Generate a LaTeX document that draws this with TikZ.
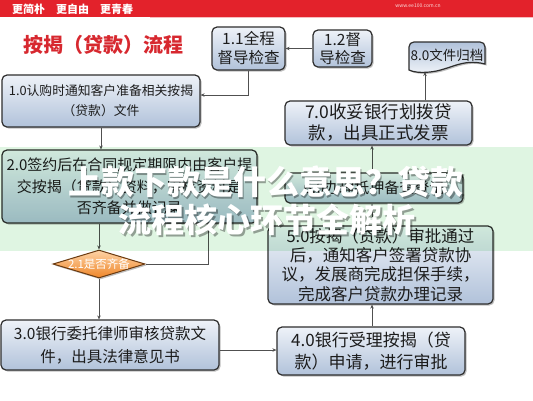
\documentclass[tikz,border=0pt]{standalone}
\usepackage{fontspec}
\setmainfont{Noto Sans CJK SC}
\usetikzlibrary{shapes.geometric,arrows.meta,shadows}
\definecolor{boxtop}{HTML}{EEF2F8}
\definecolor{boxbot}{HTML}{B1C2DA}
\definecolor{boxline}{HTML}{2E2E2E}
\definecolor{linec}{HTML}{505050}
\definecolor{txt}{HTML}{1C1C1C}
\definecolor{barred}{HTML}{E3222B}
\definecolor{titred}{HTML}{D7282F}
\definecolor{dtop}{HTML}{FDD3A6}
\definecolor{dbot}{HTML}{EF8629}
\definecolor{dline}{HTML}{6B3A10}
\definecolor{bandc}{HTML}{DFF5E2}
\newcommand{\fsz}[2]{\fontsize{#1}{#2}\selectfont}
\newcommand{\docpath}{(409,70) -- (409,47) .. controls (409,44) and (411,42) .. (414,42) -- (480,42)
  .. controls (483,42) and (485,44) .. (485,47) -- (485,64)
  .. controls (462,58) and (450,70) .. (430,72) .. controls (420,73) and (413,72) .. (409,70) -- cycle}
\begin{document}
\begin{tikzpicture}[x=1pt,y=-1pt,
  box/.style={draw=boxline, line width=1.2pt, rounded corners=5pt,
    top color=boxtop, bottom color=boxbot, text=txt, align=center, inner sep=1pt,
    drop shadow={shadow xshift=1.5pt, shadow yshift=-1.5pt, opacity=0.25, fill=black}},
  arr/.style={-{Stealth[length=4pt,width=3.5pt]}, draw=linec, line width=0.8pt},
  ln/.style={draw=linec, line width=0.8pt}]
\useasboundingbox (0,0) rectangle (533,400);
\fill[white] (0,0) rectangle (533,400);
% top bar
\fill[barred] (0,0) rectangle (533,17);
\draw[draw=white!70!barred, line width=0.6pt] (150,17.5) -- (533,17.5);
\node[text=white, font=\fsz{11}{11}\bfseries, anchor=west, inner sep=0pt] (bar) at (12,9) {更简朴\hspace{1em}更自由\hspace{1em}更青春};
\node[text=white!85!barred, font=\fsz{5}{5}, inner sep=0pt] (url) at (418,6) {www.ee100.com.cn};
% title
\node[text=titred, font=\fsz{20}{20}\bfseries, inner sep=0pt] (title) at (103.5,45) {按揭（贷款）流程};
% boxes
\node[box, minimum width=73pt, minimum height=43pt, font=\fsz{15.5}{19}] (n11) at (248.5,48.5) {1.1全程\\督导检查};
\node[box, minimum width=59pt, minimum height=37pt, font=\fsz{15.5}{18}] (n12) at (342.5,48.5) {1.2督\\导检查};
\node[box, minimum width=198pt, minimum height=52pt, font=\fsz{12.8}{20}] (n10) at (101,101) {1.0认购时通知客户准备相关按揭\\（贷款）文件};
\node[box, minimum width=255pt, minimum height=73pt, font=\fsz{15}{21.5}] (n20) at (129.5,186.5) {2.0签约后在合同规定期限内由客户提\\交按揭（贷款）资料，审核资料是\\否齐备并做记录};
\node[diamond, minimum width=92pt, minimum height=28pt, inner sep=0pt, draw=dline, line width=1pt,
  top color=dtop, bottom color=dbot,
  drop shadow={shadow xshift=1.5pt, shadow yshift=-1.5pt, opacity=0.25, fill=black}] (n21) at (99,264) {};
\node[text=white, font=\fsz{11.5}{12}, inner sep=0pt] (n21t) at (n21) {2.1是否齐备};
\node[box, minimum width=218pt, minimum height=50pt, font=\fsz{15.5}{23}] (n30) at (110,345) {3.0银行委托律师审核贷款文\\件，出具法律意见书};
\node[box, minimum width=188pt, minimum height=48pt, font=\fsz{17}{22}] (n40) at (371,351) {4.0银行受理按揭（贷\\款）申请，进行审批};
\node[box, minimum width=225pt, minimum height=78pt, font=\fsz{16.5}{19.2}] (n50) at (380.5,265) {5.0按揭（贷款）审批通过\\后，通知客户签署贷款协\\议，发展商完成担保手续，\\完成客户贷款办理记录};
\node[box, minimum width=178pt, minimum height=30pt, font=\fsz{15}{18}] (n60) at (374,188) {6.0办理抵押备查登记};
\node[box, minimum width=187pt, minimum height=44pt, font=\fsz{17.5}{21}] (n70) at (378.5,123) {7.0收妥银行划拨贷\\款，出具正式发票};
% 8.0 document shape
\begin{scope}[shift={(1.5,1.5)}]
\fill[black, opacity=0.25] \docpath;
\end{scope}
\shade[top color=boxbot, bottom color=boxtop] \docpath;
\draw[boxline, line width=1.2pt] \docpath;
\node[text=txt, font=\fsz{13.5}{14}, inner sep=0pt] (n80) at (447,55) {8.0文件归档};
\coordinate (c80) at (425,72);
% connectors
\draw[arr] (n12.west) -- (n11.east);
\draw[arr] (n11.south) |- ([yshift=6pt]n10.east);
\draw[arr] (n10.south) -- (n10.south |- n20.north);
\draw[arr] (n21.north |- n20.south) -- (n21.north);
\draw[arr] (n21.south) -- (n21.south |- n30.north);
\coordinate (c21) at (208,264);
\draw[arr] (n21.east) -- (c21) -- (c21 |- n20.south);
\draw[arr] (n30.east |- 0,350) -- (n40.west |- 0,350);
\coordinate (spine) at (372,0);
\draw[arr] (spine |- n40.north) -- (spine |- n50.south);
\draw[arr] (spine |- n50.north) -- (spine |- n60.south);
\draw[arr] (spine |- n60.north) -- (spine |- n70.south);
\draw[arr] (c80 |- n70.north) -- (c80);
% green band overlay
\begin{scope}[blend mode=multiply]
\fill[bandc] (0,147) rectangle (533,251);
\end{scope}
% watermark headline
\node[text=black, opacity=0.35, font=\fsz{33}{33}\bfseries, inner sep=0pt] (wm1s) at (267.5,183.5) {上款下款是什么意思？贷款};
\node[text=white, font=\fsz{33}{33}\bfseries, inner sep=0pt] (wm1) at (266,182) {上款下款是什么意思？贷款};
\node[text=black, opacity=0.35, font=\fsz{33}{33}\bfseries, inner sep=0pt] (wm2s) at (268.5,221.5) {流程核心环节全解析};
\node[text=white, font=\fsz{33}{33}\bfseries, inner sep=0pt] (wm2) at (267,220) {流程核心环节全解析};
\end{tikzpicture}
\end{document}
